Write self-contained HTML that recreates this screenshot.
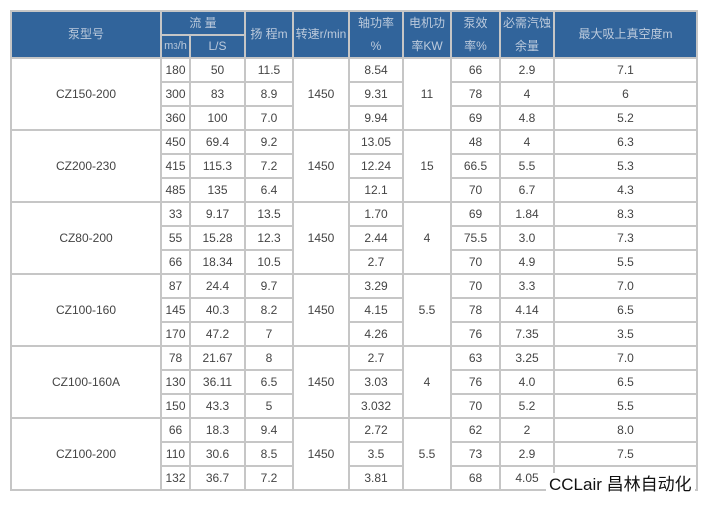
<!DOCTYPE html><html><head><meta charset="utf-8"><style>
body{margin:0;background:#fff;width:714px;height:509px;overflow:hidden;position:relative;font-family:"Liberation Sans","Noto Sans CJK SC",sans-serif}
.g{position:absolute;left:10px;top:10px;width:684px;padding:2px;background:#c6c6c6;display:grid;gap:2px;
grid-template-columns:148px 27px 53px 46px 54px 52px 46px 47px 52px 141px;grid-template-rows:22px 21px repeat(18,22px)}
.g div{background:#fff;color:#444;font-size:12px;display:flex;align-items:center;justify-content:center;text-align:center}
.g .h{background:#31649b;color:#bccadc;line-height:23px}
.wm{position:absolute;left:546px;top:473px;background:#fff;font-size:17px;color:#111;padding:0 3px;line-height:24px}
</style></head><body>
<div class="g">
<div class="h" style="grid-row:1/3">泵型号</div>
<div class="h" style="grid-column:2/4">流 量</div>
<div class="h" style="grid-row:1/3">扬 程m</div>
<div class="h" style="grid-row:1/3">转速r/min</div>
<div class="h" style="grid-row:1/3">轴功率<br>%</div>
<div class="h" style="grid-row:1/3">电机功<br>率KW</div>
<div class="h" style="grid-row:1/3">泵效<br>率%</div>
<div class="h" style="grid-row:1/3">必需汽蚀<br>余量</div>
<div class="h" style="grid-row:1/3">最大吸上真空度m</div>
<div class="h" style="grid-column:2;grid-row:2;font-size:11px">m<sup style="font-size:8px">3</sup>/h</div>
<div class="h" style="grid-column:3;grid-row:2">L/S</div>

<div style="grid-column:1;grid-row:3/6">CZ150-200</div>
<div style="grid-column:5;grid-row:3/6">1450</div>
<div style="grid-column:7;grid-row:3/6">11</div>
<div style="grid-column:1;grid-row:6/9">CZ200-230</div>
<div style="grid-column:5;grid-row:6/9">1450</div>
<div style="grid-column:7;grid-row:6/9">15</div>
<div style="grid-column:1;grid-row:9/12">CZ80-200</div>
<div style="grid-column:5;grid-row:9/12">1450</div>
<div style="grid-column:7;grid-row:9/12">4</div>
<div style="grid-column:1;grid-row:12/15">CZ100-160</div>
<div style="grid-column:5;grid-row:12/15">1450</div>
<div style="grid-column:7;grid-row:12/15">5.5</div>
<div style="grid-column:1;grid-row:15/18">CZ100-160A</div>
<div style="grid-column:5;grid-row:15/18">1450</div>
<div style="grid-column:7;grid-row:15/18">4</div>
<div style="grid-column:1;grid-row:18/21">CZ100-200</div>
<div style="grid-column:5;grid-row:18/21">1450</div>
<div style="grid-column:7;grid-row:18/21">5.5</div>

<div style="grid-column:2">180</div><div>50</div><div>11.5</div><div style="grid-column:6">8.54</div><div style="grid-column:8">66</div><div>2.9</div><div>7.1</div>
<div style="grid-column:2">300</div><div>83</div><div>8.9</div><div style="grid-column:6">9.31</div><div style="grid-column:8">78</div><div>4</div><div>6</div>
<div style="grid-column:2">360</div><div>100</div><div>7.0</div><div style="grid-column:6">9.94</div><div style="grid-column:8">69</div><div>4.8</div><div>5.2</div>
<div style="grid-column:2">450</div><div>69.4</div><div>9.2</div><div style="grid-column:6">13.05</div><div style="grid-column:8">48</div><div>4</div><div>6.3</div>
<div style="grid-column:2">415</div><div>115.3</div><div>7.2</div><div style="grid-column:6">12.24</div><div style="grid-column:8">66.5</div><div>5.5</div><div>5.3</div>
<div style="grid-column:2">485</div><div>135</div><div>6.4</div><div style="grid-column:6">12.1</div><div style="grid-column:8">70</div><div>6.7</div><div>4.3</div>
<div style="grid-column:2">33</div><div>9.17</div><div>13.5</div><div style="grid-column:6">1.70</div><div style="grid-column:8">69</div><div>1.84</div><div>8.3</div>
<div style="grid-column:2">55</div><div>15.28</div><div>12.3</div><div style="grid-column:6">2.44</div><div style="grid-column:8">75.5</div><div>3.0</div><div>7.3</div>
<div style="grid-column:2">66</div><div>18.34</div><div>10.5</div><div style="grid-column:6">2.7</div><div style="grid-column:8">70</div><div>4.9</div><div>5.5</div>
<div style="grid-column:2">87</div><div>24.4</div><div>9.7</div><div style="grid-column:6">3.29</div><div style="grid-column:8">70</div><div>3.3</div><div>7.0</div>
<div style="grid-column:2">145</div><div>40.3</div><div>8.2</div><div style="grid-column:6">4.15</div><div style="grid-column:8">78</div><div>4.14</div><div>6.5</div>
<div style="grid-column:2">170</div><div>47.2</div><div>7</div><div style="grid-column:6">4.26</div><div style="grid-column:8">76</div><div>7.35</div><div>3.5</div>
<div style="grid-column:2">78</div><div>21.67</div><div>8</div><div style="grid-column:6">2.7</div><div style="grid-column:8">63</div><div>3.25</div><div>7.0</div>
<div style="grid-column:2">130</div><div>36.11</div><div>6.5</div><div style="grid-column:6">3.03</div><div style="grid-column:8">76</div><div>4.0</div><div>6.5</div>
<div style="grid-column:2">150</div><div>43.3</div><div>5</div><div style="grid-column:6">3.032</div><div style="grid-column:8">70</div><div>5.2</div><div>5.5</div>
<div style="grid-column:2">66</div><div>18.3</div><div>9.4</div><div style="grid-column:6">2.72</div><div style="grid-column:8">62</div><div>2</div><div>8.0</div>
<div style="grid-column:2">110</div><div>30.6</div><div>8.5</div><div style="grid-column:6">3.5</div><div style="grid-column:8">73</div><div>2.9</div><div>7.5</div>
<div style="grid-column:2">132</div><div>36.7</div><div>7.2</div><div style="grid-column:6">3.81</div><div style="grid-column:8">68</div><div>4.05</div><div>3.5</div>
</div>
<div class="wm">CCLair 昌林自动化</div>
</body></html>
